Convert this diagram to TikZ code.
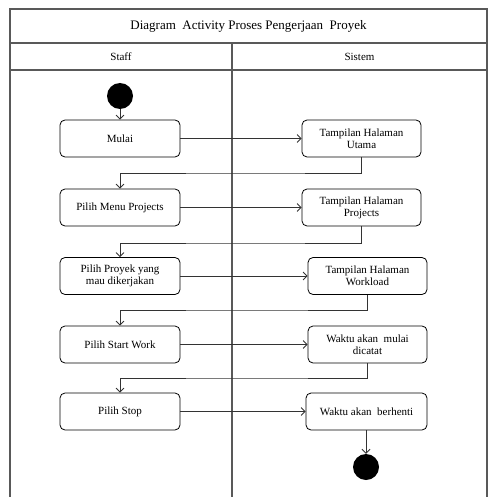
\documentclass[tikz,border=0pt]{standalone}
\usepackage{fontspec}
\setmainfont{Liberation Serif}
\usetikzlibrary{arrows.meta}
\begin{document}
\begin{tikzpicture}[x=1pt,y=-1pt,
  frame/.style={draw=black!65, line width=1.1pt},
  action/.style={draw=black, line width=0.8pt, rounded corners=5pt,
    minimum height=37pt, inner sep=1pt, align=center,
    font=\fontsize{11}{12}\selectfont},
  flow/.style={draw=black!80, line width=0.8pt,
    -{Straight Barb[length=4pt,width=8pt,line width=0.8pt]}},
  dot/.style={circle, fill=black, draw=none, minimum size=26pt, inner sep=0pt}]
\useasboundingbox (0,0) rectangle (489,497);

% swimlane frame
\draw[frame] (10,497) -- (10,9) -- (487,9) -- (487,497);
\draw[frame] (10,43) -- (487,43);
\draw[frame] (10,70) -- (487,70);
\draw[frame] (232,43) -- (232,497);
\node (title) at (248.5,26) {\fontsize{13}{15}\selectfont Diagram\ \ Activity Proses Pengerjaan\ \ Proyek};
\node (staff) at (121,56.5) {\fontsize{11}{13}\selectfont Staff};
\node (sistem) at (359.5,56.5) {\fontsize{11}{13}\selectfont Sistem};

% Staff lane
\node[dot] (start) at (120,96) {};
\node[action, minimum width=120pt] (mulai) at (120,138.5) {Mulai};
\node[action, minimum width=120pt] (menu) at (120,207.5) {Pilih Menu Projects};
\node[action, minimum width=120pt] (proyek) at (120,276) {Pilih Proyek yang\\mau\ dikerjakan};
\node[action, minimum width=120pt] (work) at (120,344.5) {Pilih Start Work};
\node[action, minimum width=120pt] (stop) at (120,411.5) {Pilih Stop};

% Sistem lane
\node[action, minimum width=119pt] (utama) at (361.5,138.5) {Tampilan Halaman\\Utama};
\node[action, minimum width=119pt] (projects) at (361.5,207.5) {Tampilan Halaman\\Projects};
\node[action, minimum width=119pt] (workload) at (367.5,276) {Tampilan Halaman\\Workload};
\node[action, minimum width=119pt] (catat) at (367.5,344.5) {Waktu akan\ \ mulai\\dicatat};
\node[action, minimum width=121pt] (henti) at (366.5,411.5) {Waktu akan\ \ berhenti};
\node[dot] (end) at (366,467) {};

% control flow
\draw[flow] (start) -- (mulai);
\draw[flow] (mulai) -- (utama);
\draw[flow] (utama.south) |- (250,173) -| (menu.north);
\draw[flow] (menu) -- (projects);
\draw[flow] (projects.south) |- (250,243) -| (proyek.north);
\draw[flow] (proyek) -- (workload);
\draw[flow] (workload.south) |- (250,310) -| (work.north);
\draw[flow] (work) -- (catat);
\draw[flow] (catat.south) |- (250,378) -| (stop.north);
\draw[flow] (stop) -- (henti);
\draw[flow] (henti.south -| end) -- (end);
\end{tikzpicture}
\end{document}
